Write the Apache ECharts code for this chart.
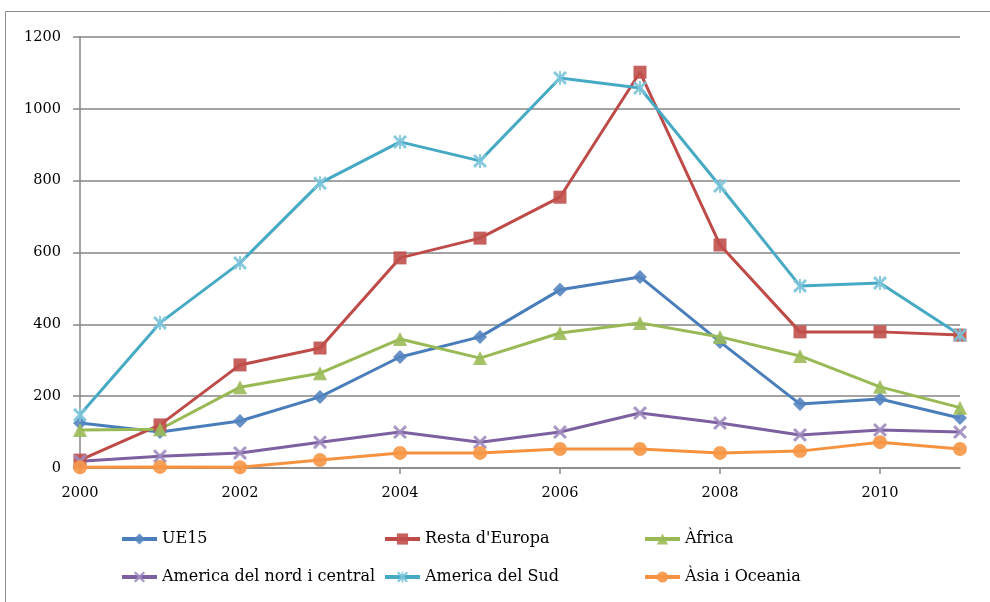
<!DOCTYPE html>
<html>
<head>
<meta charset="utf-8">
<script src="https://cdn.jsdelivr.net/npm/echarts@6/dist/echarts.min.js"></script>
<style>
html,body{margin:0;padding:0;background:#fff;}
#chart{width:990px;height:602px;}
</style>
</head>
<body>
<div id="chart"></div>
<script>
const years = ['2000','2001','2002','2003','2004','2005','2006','2007','2008','2009','2010','2011'];
const yTicks = {min: 0, max: 1200, interval: 200};
const seriesNames = ['UE15', "Resta d'Europa", 'Àfrica', 'America del nord i central', 'America del Sud', 'Àsia i Oceania'];
const ue15 = [125, 100, 131, 198, 309, 365, 496, 532, 351, 178, 192, 139];
const restaEuropa = [22, 120, 287, 334, 585, 640, 754, 1102, 621, 379, 379, 370];
const africa = [106, 108, 225, 264, 359, 306, 376, 404, 365, 312, 226, 168];
const americaNord = [19, 33, 42, 72, 100, 72, 100, 153, 125, 92, 106, 100];
const americaSud = [148, 404, 571, 793, 908, 855, 1086, 1058, 785, 507, 515, 370];
const asiaOceania = [2, 3, 2, 22, 42, 42, 53, 53, 42, 47, 72, 53];

const values = [ue15, restaEuropa, africa, americaNord, americaSud, asiaOceania];
const lineColors = ['#4A7EBB', '#BE4B48', '#98B954', '#7D60A0', '#46AAC5', '#F69240'];
const markerColors = ['#5585C0', '#C0504D', '#9BBB59', '#A08CC0', '#7CC4DA', '#F79646'];
const xPath = 'path://M0,1.5 L1.5,0 L5,3.5 L8.5,0 L10,1.5 L6.5,5 L10,8.5 L8.5,10 L5,6.5 L1.5,10 L0,8.5 L3.5,5 Z';
const starPath = 'path://M0,1.5 L1.5,0 L5,3.5 L8.5,0 L10,1.5 L6.5,5 L10,8.5 L8.5,10 L5,6.5 L1.5,10 L0,8.5 L3.5,5 Z M4.3,0 L5.7,0 L5.7,10 L4.3,10 Z';
const symbols = ['diamond', 'rect', 'triangle', xPath, starPath, 'circle'];
const symbolSizes = [14, 13, 14, 14, 14, 14];

const FONT = '"DejaVu Serif", "Liberation Serif", serif';
const chart = echarts.init(document.getElementById('chart'), null, {renderer: 'canvas'});

const series = seriesNames.map((name, i) => ({
  name: name,
  type: 'line',
  data: values[i],
  symbol: symbols[i],
  symbolSize: symbolSizes[i],
  showAllSymbol: true,
  lineStyle: {color: lineColors[i], width: 3},
  itemStyle: {color: markerColors[i], opacity: 0.9},
  emphasis: {disabled: true},
  animation: false
}));

const legendPos = [
  {left: 120, top: 529},
  {left: 383, top: 529},
  {left: 643, top: 529},
  {left: 120, top: 567},
  {left: 383, top: 567},
  {left: 643, top: 567}
];
const legends = seriesNames.map((name, i) => ({
  data: [name],
  left: legendPos[i].left,
  top: legendPos[i].top,
  orient: 'horizontal',
  itemWidth: 35,
  itemHeight: 14,
  itemGap: 0,
  padding: 0,
  selectedMode: false,
  lineStyle: {width: 4},
  textStyle: {fontFamily: FONT, fontSize: 16, lineHeight: 20, color: '#000'}
}));

chart.setOption({
  animation: false,
  backgroundColor: '#fff',
  graphic: [{
    type: 'rect',
    shape: {x: 5.5, y: 11.5, width: 1100, height: 700},
    style: {fill: 'none', stroke: '#8c8c8c', lineWidth: 1},
    silent: true
  }],
  grid: {left: 80, right: 30, top: 37, bottom: 134, containLabel: false},
  legend: legends,
  xAxis: {
    type: 'category',
    data: years,
    boundaryGap: false,
    axisLine: {lineStyle: {color: '#868686', width: 1.5}},
    axisTick: {show: true, interval: 1, length: 6, lineStyle: {color: '#868686', width: 1.5}},
    axisLabel: {interval: 1, margin: 18, fontFamily: FONT, fontSize: 14.5, color: '#000'},
    splitLine: {show: false}
  },
  yAxis: {
    type: 'value',
    min: yTicks.min,
    max: yTicks.max,
    interval: yTicks.interval,
    axisLine: {show: true, lineStyle: {color: '#868686', width: 1.5}},
    axisTick: {show: true, length: 7, lineStyle: {color: '#868686', width: 1.5}},
    axisLabel: {margin: 19, fontFamily: FONT, fontSize: 14.5, color: '#000', formatter: v => String(v)},
    splitLine: {show: true, lineStyle: {color: '#868686', width: 1.5}}
  },
  series: series
});
</script>
</body>
</html>
